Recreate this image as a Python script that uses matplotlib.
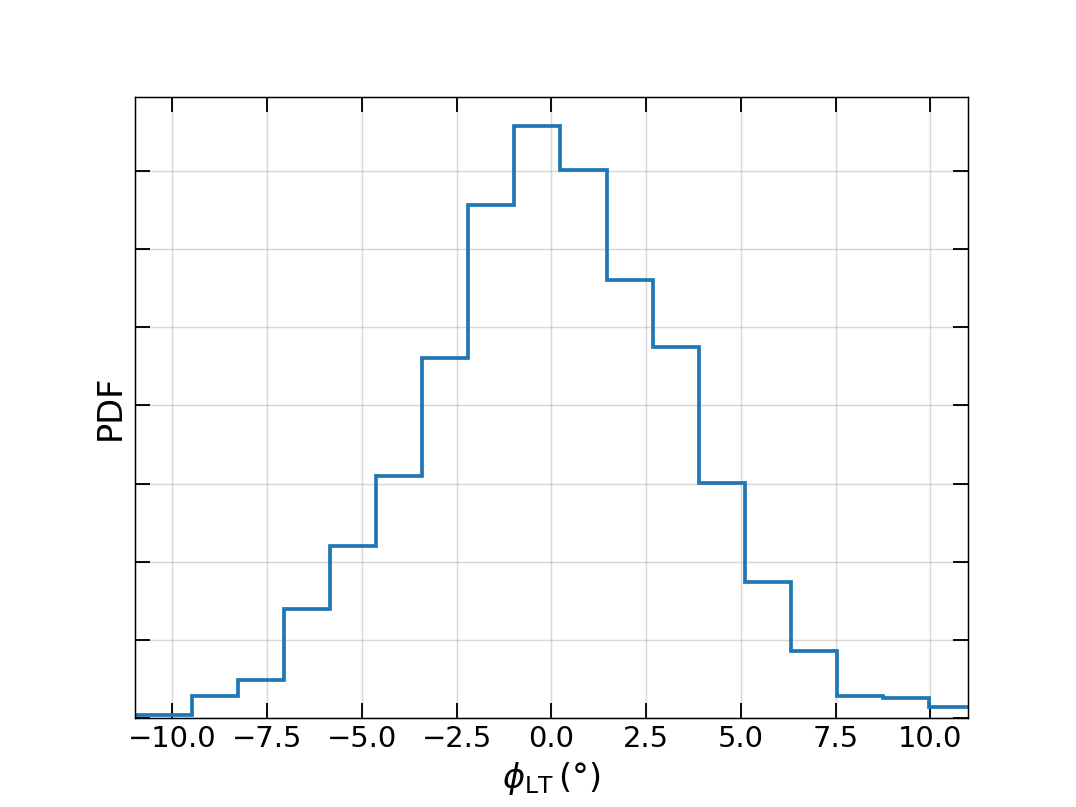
import numpy as np
import matplotlib
matplotlib.use("Agg")
import matplotlib.pyplot as plt

# Bin edges (degrees) and PDF heights
bin_edges = [-11.5] + list(np.linspace(-9.488, 11.18, 18))
pdf_values = [0.0009, 0.00575, 0.00985, 0.02793, 0.04412, 0.06202, 0.09202,
              0.13107, 0.15128, 0.14021, 0.11207, 0.09501, 0.06015, 0.03491,
              0.01708, 0.00575, 0.00506, 0.00294]
x_ticks = [-10.0, -7.5, -5.0, -2.5, 0.0, 2.5, 5.0, 7.5, 10.0]
y_ticks = [0.0, 0.02, 0.04, 0.06, 0.08, 0.10, 0.12, 0.14]

fig, ax = plt.subplots(figsize=(8, 6), dpi=134.5)
ax.hist(np.array(bin_edges[:-1]) + 0.01, bins=bin_edges, weights=pdf_values,
        histtype='step', color='#1f77b4', linewidth=2.0)

ax.set_xlim(-11, 11)
ax.set_ylim(0, max(pdf_values) * 1.05)
ax.set_xticks(x_ticks)
ax.set_yticks(y_ticks)
ax.grid(True, color='#b0b0b0', alpha=0.5, linewidth=0.8)
ax.tick_params(direction='in', top=True, right=True, length=8, width=1.0,
               labelleft=False, labelsize=15.5)
ax.set_xlabel(r'$\phi_{\mathrm{LT}}\,(°)$', fontsize=18)
ax.set_ylabel('PDF', fontsize=18)

fig.savefig('out.png', dpi=134.5)
